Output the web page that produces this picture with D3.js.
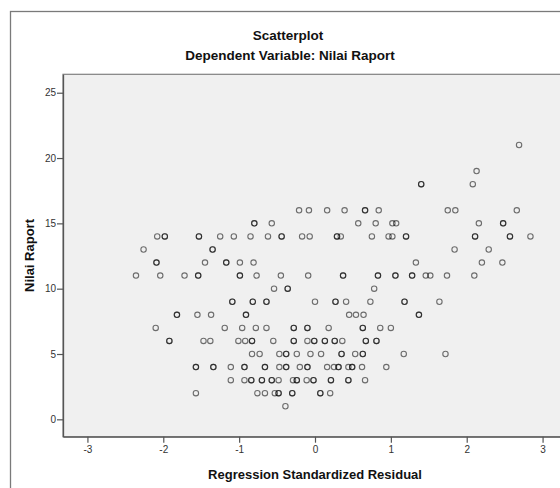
<!DOCTYPE html>
<html>
<head>
<meta charset="utf-8">
<script src="https://cdn.jsdelivr.net/npm/d3@7"></script>
<style>
  body { margin: 0; background: #fff; }
  text { font-family: "Liberation Sans", Arial, sans-serif; }
</style>
</head>
<body>
<svg id="chart"></svg>
<script>
  // Nilai Raport levels (y) and the standardized residuals (x) read at each level
  // repeated values = overlapping points (drawn darker)
  var raportLevels = [21, 19, 18, 16, 15, 14, 13, 12, 11, 10, 9, 8, 7, 6, 5, 4, 3, 2, 1];

  var resid21 = [2.69];
  var resid19 = [2.13];
  var resid18 = [1.40, 1.40, 2.08];
  var resid16 = [-0.21, -0.08, 0.16, 0.39, 0.66, 0.66, 0.84, 1.75, 1.85, 2.66];
  var resid15 = [-0.80, -0.80, -0.57, 0.57, 0.80, 1.02, 1.07, 2.16, 2.48, 2.48];
  var resid14 = [-2.08, -1.98, -1.98, -1.53, -1.53, -1.25, -1.07, -0.85, -0.62, -0.44, -0.44,
                 -0.17, -0.07, 0.29, 0.29, 0.34, 0.75, 0.97, 1.02, 1.20, 1.20, 2.11, 2.11, 2.57, 2.57, 2.84];
  var resid13 = [-2.26, -1.35, -1.35, 1.84, 2.29];
  var resid12 = [-2.09, -2.09, -1.45, -1.17, -1.17, -0.99, -0.81, 1.33, 2.20, 2.47];
  var resid11 = [-2.36, -2.04, -1.72, -1.54, -1.54, -0.99, -0.99, -0.77, -0.45, -0.09, 0.37, 0.37,
                 0.83, 0.83, 1.06, 1.06, 1.28, 1.28, 1.46, 1.52, 1.74, 2.10];
  var resid10 = [-0.54, -0.36, -0.36, 0.78];
  var resid9 = [-1.09, -1.09, -0.82, -0.82, -0.64, -0.64, 0.00, 0.27, 0.27, 0.41, 0.73, 1.18, 1.18, 1.64];
  var resid8 = [-1.82, -1.82, -1.55, -1.37, -0.91, -0.91, 0.45, 0.54, 0.64, 1.37, 1.37];
  var resid7 = [-2.10, -1.19, -0.96, -0.78, -0.64, -0.28, -0.28, -0.10, -0.10, 0.18, 0.63, 0.63, 0.86, 1.00];
  var resid6 = [-1.92, -1.92, -1.47, -1.38, -1.01, -0.92, -0.83, -0.83, -0.55, -0.28, -0.28, -0.10,
                -0.01, -0.01, 0.13, 0.13, 0.26, 0.26, 0.36, 0.67, 0.67, 0.81, 0.81];
  var resid5 = [-0.83, -0.73, -0.47, -0.38, -0.38, -0.24, -0.06, 0.08, 0.35, 0.35, 0.53, 0.63, 0.63, 1.17, 1.72];
  var resid4 = [-1.57, -1.57, -1.34, -1.34, -1.11, -0.93, -0.93, -0.66, -0.66, -0.47, -0.38, -0.38,
                -0.20, -0.10, -0.10, 0.16, 0.25, 0.31, 0.31, 0.44, 0.49, 0.49, 0.62, 0.94];
  var resid3 = [-1.11, -0.93, -0.84, -0.84, -0.70, -0.70, -0.57, -0.57, -0.48, -0.29, -0.24, -0.24,
                -0.11, -0.02, -0.02, 0.21, 0.21, 0.44, 0.44, 0.66];
  var resid2 = [-1.57, -0.76, -0.66, -0.53, -0.48, -0.48, -0.30, -0.30, 0.07, 0.07, 0.20];
  var resid1 = [-0.39];

  var residByLevel = [resid21, resid19, resid18, resid16, resid15, resid14, resid13, resid12, resid11,
                      resid10, resid9, resid8, resid7, resid6, resid5, resid4, resid3, resid2, resid1];

  var xTicks = [-3, -2, -1, 0, 1, 2, 3];
  var yTicks = [0, 5, 10, 15, 20, 25];

  var data = [];
  raportLevels.forEach(function(lv, i) {
    residByLevel[i].forEach(function(r) { data.push({ resid: r, raport: lv }); });
  });

  var svgWidth = 560, svgHeight = 488;
  var plot = { left: 63, top: 74.3, right: 567, bottom: 436.7 };

  var svg = d3.select('#chart')
     .attr("width", svgWidth)
     .attr("height", svgHeight);

  // outer frame
  svg.append("rect")
     .attr("x", 10.5).attr("y", 11.5)
     .attr("width", 570).attr("height", 500)
     .attr("fill", "#fff")
     .attr("stroke", "#7a7a7a")
     .attr("stroke-width", 1.3);

  var x = d3.scaleLinear().domain([-3.322, 3.322]).range([plot.left, plot.right]);
  var y = d3.scaleLinear().domain([-1.33, 26.41]).range([plot.bottom, plot.top]);

  svg.append("rect")
     .attr("x", plot.left).attr("y", plot.top)
     .attr("width", plot.right - plot.left).attr("height", plot.bottom - plot.top)
     .attr("fill", "#f0f0f0")
     .attr("stroke", "#808080")
     .attr("stroke-width", 1.2);

  // plain hyphen minus, like the original
  var fmt = function(d) { return String(d); };

  var xAxis = d3.axisBottom(x).tickValues(xTicks).tickFormat(fmt).tickSize(6).tickSizeOuter(0);
  var yAxis = d3.axisLeft(y).tickValues(yTicks).tickFormat(fmt).tickSize(6).tickSizeOuter(0);

  var gx = svg.append("g")
     .attr("transform", "translate(0," + plot.bottom + ")")
     .call(xAxis);
  gx.select(".domain").attr("stroke", "#555").attr("stroke-width", 1.3);
  gx.selectAll(".tick line").attr("stroke", "#555").attr("stroke-width", 1.2);
  gx.selectAll(".tick text")
     .attr("font-size", 10).attr("fill", "#333")
     .style("font-family", "Liberation Sans, Arial, sans-serif");

  var gy = svg.append("g")
     .attr("transform", "translate(" + plot.left + ",0)")
     .call(yAxis);
  gy.select(".domain").attr("stroke", "#555").attr("stroke-width", 1.3);
  gy.selectAll(".tick line").attr("stroke", "#555").attr("stroke-width", 1.2);
  gy.selectAll(".tick text")
     .attr("font-size", 10).attr("fill", "#333").attr("x", -7)
     .style("font-family", "Liberation Sans, Arial, sans-serif");

  svg.append("g")
     .selectAll("circle")
     .data(data)
     .enter()
     .append("circle")
     .attr("cx", function(d) { return x(d.resid); })
     .attr("cy", function(d) { return y(d.raport); })
     .attr("r", 2.7)
     .attr("fill", "none")
     .attr("stroke", "#000")
     .attr("stroke-opacity", 0.55)
     .attr("stroke-width", 1.1);

  // titles
  svg.append("text")
     .attr("x", 288).attr("y", 39.5)
     .attr("text-anchor", "middle")
     .attr("font-size", 13.5).attr("font-weight", "bold").attr("fill", "#111")
     .text("Scatterplot");

  svg.append("text")
     .attr("x", 290).attr("y", 60)
     .attr("text-anchor", "middle")
     .attr("font-size", 13.5).attr("font-weight", "bold").attr("fill", "#111")
     .text("Dependent Variable: Nilai Raport");

  svg.append("text")
     .attr("x", 315).attr("y", 478.5)
     .attr("text-anchor", "middle")
     .attr("font-size", 13).attr("font-weight", "bold").attr("fill", "#111")
     .text("Regression Standardized Residual");

  svg.append("text")
     .attr("transform", "translate(34," + ((plot.top + plot.bottom) / 2) + ") rotate(-90)")
     .attr("text-anchor", "middle")
     .attr("font-size", 13).attr("font-weight", "bold").attr("fill", "#111")
     .text("Nilai Raport");
</script>
</body>
</html>
